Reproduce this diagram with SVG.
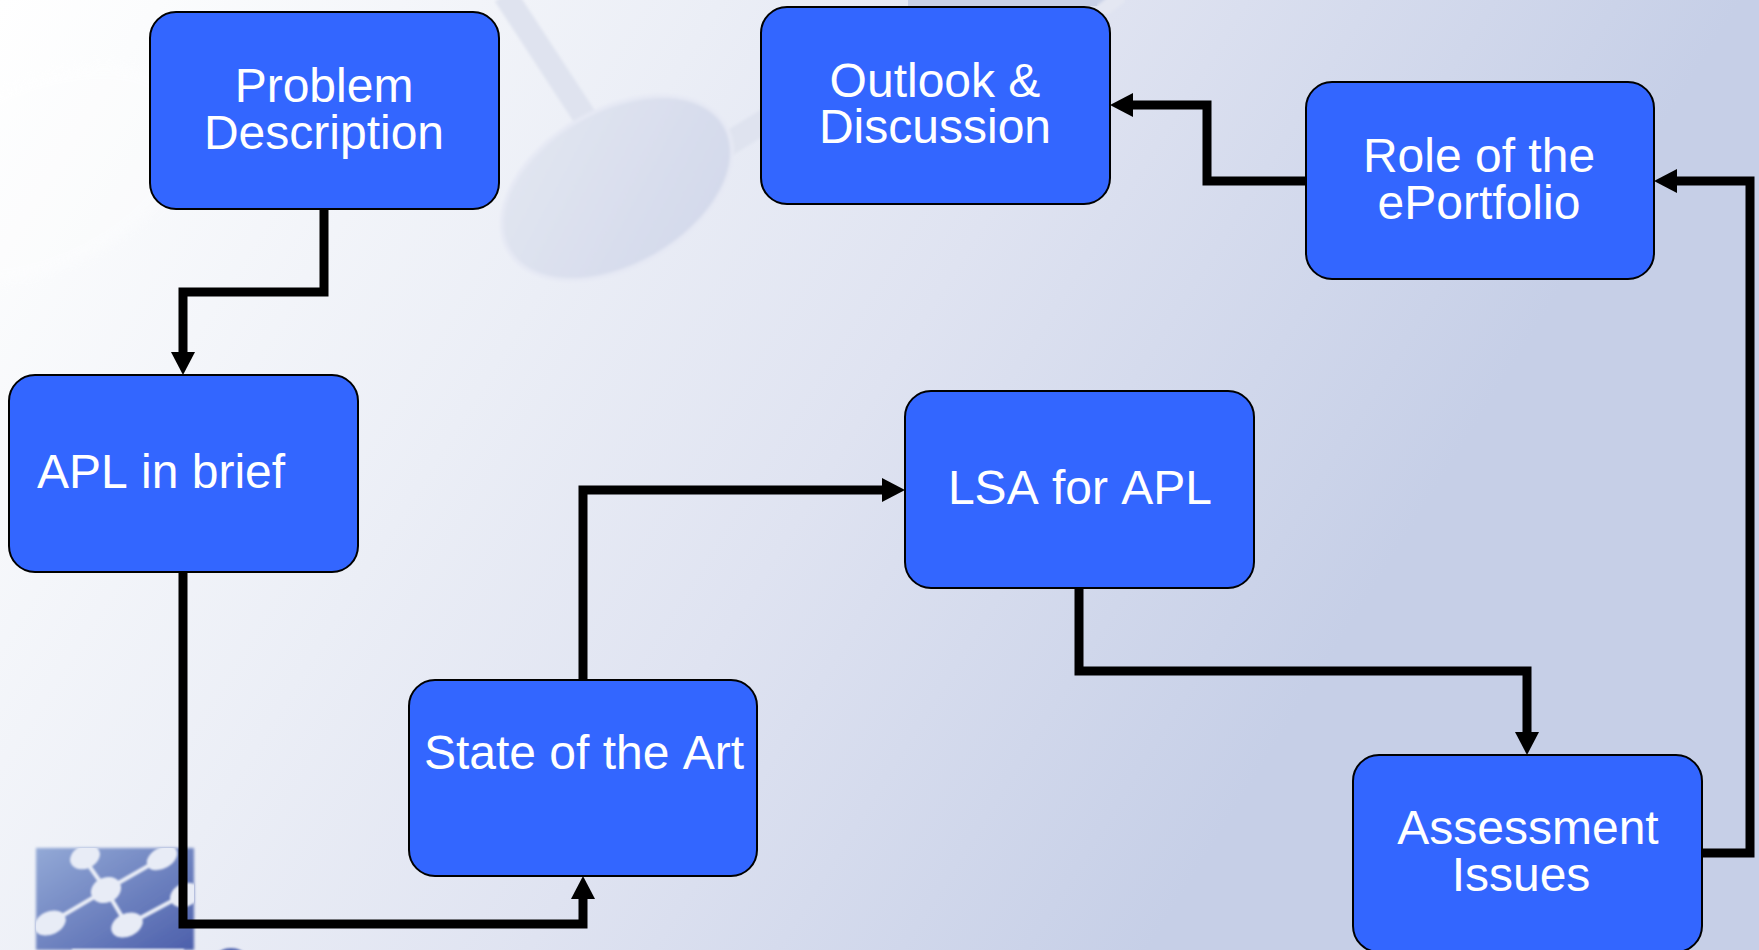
<svg xmlns="http://www.w3.org/2000/svg" width="1759" height="950" viewBox="0 0 1759 950">
<style>
.box{fill:#3366ff;stroke:#000;stroke-width:2}
.lbl{font-family:"Liberation Sans",Arial,sans-serif;font-size:48px;fill:#fff;text-anchor:middle;font-kerning:none}
.con{fill:none;stroke:#000;stroke-width:9;stroke-linejoin:miter}
</style>
<defs>
<linearGradient id="bg" gradientUnits="userSpaceOnUse" x1="0" y1="0" x2="1440" y2="900">
<stop offset="0" stop-color="#ffffff"/><stop offset=".08" stop-color="#fbfcfd"/><stop offset=".36" stop-color="#ebeef6"/><stop offset=".56" stop-color="#dfe3f1"/><stop offset=".87" stop-color="#c6cfe7"/>
</linearGradient>
<linearGradient id="logo" x1="0" y1="0" x2="1" y2="1">
<stop offset="0" stop-color="#93a9d6"/><stop offset="1" stop-color="#4c5fab"/>
</linearGradient>
<linearGradient id="egg" x1="0" y1="0" x2="1" y2="1">
<stop offset="0" stop-color="#e3e7f1"/><stop offset="1" stop-color="#d1d7ea"/>
</linearGradient>
<filter id="b1"><feGaussianBlur stdDeviation="1.2"/></filter>
<filter id="b2"><feGaussianBlur stdDeviation="6"/></filter>
<filter id="b3"><feGaussianBlur stdDeviation="1.5"/></filter>
<marker id="ah" markerUnits="userSpaceOnUse" markerWidth="26" markerHeight="26" refX="3" refY="12" orient="auto"><path d="M0 0L23 12L0 24Z" fill="#000"/></marker>
<clipPath id="lc"><rect x="36" y="848" width="158" height="102"/></clipPath>
</defs>
<rect id="background" width="1759" height="950" fill="url(#bg)"/>
<g id="decor">
<ellipse cx="40" cy="175" rx="165" ry="95" fill="#ffffff" opacity=".3" transform="rotate(-25 40 175)" filter="url(#b2)"/>
<path d="M505 -5L590 125M715 152L775 115" stroke="#dfe3ef" stroke-width="24" fill="none" filter="url(#b3)"/>
<ellipse cx="617" cy="188" rx="125" ry="78" transform="rotate(-30 617 188)" fill="url(#egg)" stroke="#e6e9f4" stroke-width="4" filter="url(#b3)"/>
<rect x="908" y="0" width="205" height="6" fill="#c8d0e6"/>
<path d="M1100 12L1122 -5" stroke="#e4e7f2" stroke-width="14" filter="url(#b3)"/>
</g>
<g id="logo-mark">
<rect x="36" y="848" width="158" height="102" fill="url(#logo)" filter="url(#b3)"/>
<g clip-path="url(#lc)" filter="url(#b1)" fill="#e8ecf6" stroke="#e8ecf6">
<path d="M85 860L106 890L162 858M50 923L106 890L127 925L183 895" fill="none" stroke-width="4"/>
<ellipse cx="85" cy="857" rx="15" ry="11" transform="rotate(-25 85 857)"/>
<ellipse cx="162" cy="858" rx="16" ry="10" transform="rotate(-30 162 858)"/>
<ellipse cx="106" cy="890" rx="15" ry="12" transform="rotate(-25 106 890)"/>
<ellipse cx="50" cy="923" rx="16" ry="11" transform="rotate(-25 50 923)"/>
<ellipse cx="127" cy="925" rx="16" ry="11" transform="rotate(-25 127 925)"/>
<ellipse cx="185" cy="895" rx="15" ry="11" transform="rotate(-25 185 895)"/>
<rect x="72" y="949" width="112" height="2" stroke="none"/>
</g>
<ellipse cx="231" cy="955" rx="13" ry="7" fill="#5468b0" filter="url(#b1)"/>
</g>
<g id="connectors">
<path class="con" marker-end="url(#ah)" d="M324 209V292H183V355"/>
<path class="con" marker-end="url(#ah)" d="M183 572V924H583V896"/>
<path class="con" marker-end="url(#ah)" d="M583 680V490H885"/>
<path class="con" marker-end="url(#ah)" d="M1079 588V671H1527V735"/>
<path class="con" marker-end="url(#ah)" d="M1702 853H1750V181H1674"/>
<path class="con" marker-end="url(#ah)" d="M1306 181H1207V105H1130"/>
</g>
<g id="problem"><rect class="box" x="150" y="12" width="349" height="197" rx="26"/><text class="lbl" x="324" y="102">Problem</text><text class="lbl" x="324" y="149">Description</text></g>
<g id="outlook"><rect class="box" x="761" y="7" width="349" height="197" rx="26"/><text class="lbl" x="935" y="97">Outlook &amp;</text><text class="lbl" x="935" y="143">Discussion</text></g>
<g id="role"><rect class="box" x="1306" y="82" width="348" height="197" rx="26"/><text class="lbl" x="1479" y="172">Role of the</text><text class="lbl" x="1479" y="219">ePortfolio</text></g>
<g id="apl"><rect class="box" x="9" y="375" width="349" height="197" rx="26"/><text class="lbl" x="37" y="488" style="text-anchor:start">APL in brief</text></g>
<g id="lsa"><rect class="box" x="905" y="391" width="349" height="197" rx="26"/><text class="lbl" x="1080" y="504">LSA for APL</text></g>
<g id="state"><rect class="box" x="409" y="680" width="348" height="196" rx="26"/><text class="lbl" x="584" y="769">State of the Art</text></g>
<g id="assessment"><rect class="box" x="1353" y="755" width="349" height="197" rx="26"/><text class="lbl" x="1528" y="844">Assessment</text><text class="lbl" x="1521" y="891">Issues</text></g>
</svg>
